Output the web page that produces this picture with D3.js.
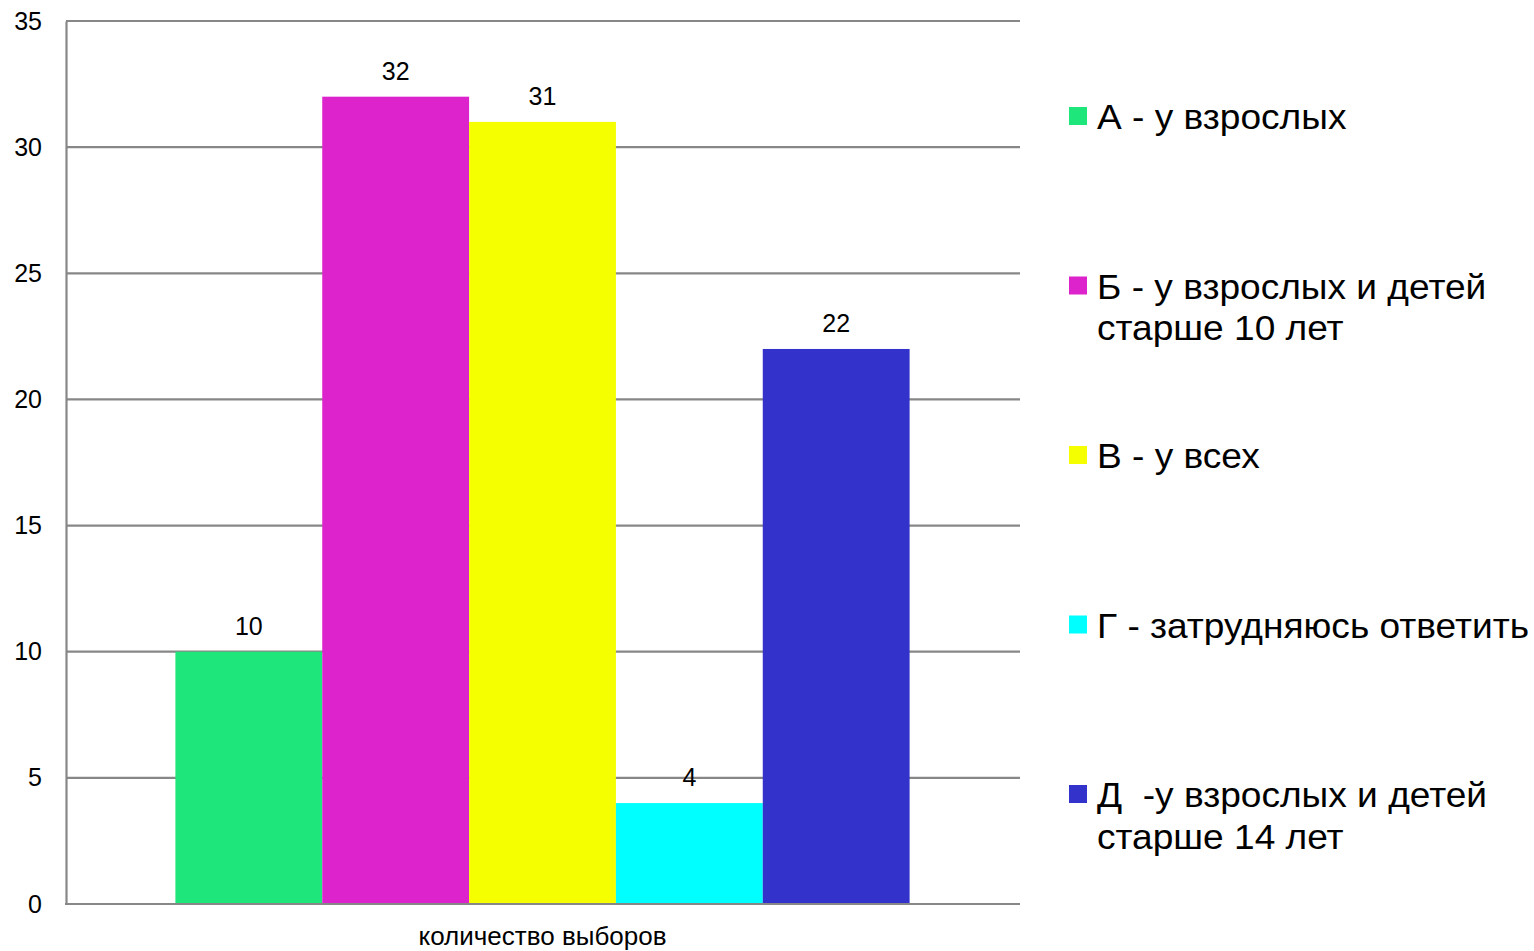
<!DOCTYPE html>
<html>
<head>
<meta charset="utf-8">
<script src="https://cdn.jsdelivr.net/npm/d3@7"></script>
<style>
  html, body { margin: 0; padding: 0; background: #fff; }
  svg { display: block; font-family: "Liberation Sans", Arial, sans-serif; }
</style>
</head>
<body>
<svg id="chart" width="1534" height="951"></svg>
<script>
// data
var category = "количество выборов";
var seriesNames = ["А - у взрослых", "Б - у взрослых и детей старше 10 лет", "В - у всех", "Г - затрудняюсь ответить", "Д  -у взрослых и детей старше 14 лет"];
var values = [10, 32, 31, 4, 22];
var colors = ["#1ee67a", "#dd24cc", "#f5ff00", "#00ffff", "#3333cc"];
// legend lines (wrapped as in the picture)
var legendLines = [
    ["А - у взрослых"],
    ["Б - у взрослых и детей", "старше 10 лет"],
    ["В - у всех"],
    ["Г - затрудняюсь ответить"],
    ["Д  -у взрослых и детей", "старше 14 лет"]
];
var yTicks = [0, 5, 10, 15, 20, 25, 30, 35];

var svg = d3.select('#chart');

var plot = { left: 66, right: 1019, top: 21, bottom: 904 };

var y = d3.scaleLinear().domain([0, 35]).range([plot.bottom, plot.top]);

var x0 = d3.scaleBand().domain([category])
    .range([plot.left, plot.right])
    .paddingInner(0).paddingOuter(0.149);

var x1 = d3.scaleBand().domain(seriesNames)
    .range([0, x0.bandwidth()]).padding(0);

// gridlines
svg.append('g')
    .selectAll('line')
    .data(yTicks.filter(d => d > 0))
    .join('line')
    .attr('x1', plot.left)
    .attr('x2', plot.right + 1)
    .attr('y1', d => y(d))
    .attr('y2', d => y(d))
    .attr('stroke', '#878787')
    .attr('stroke-width', 2.2);

// bars
var g = svg.append('g').attr('transform', 'translate(' + x0(category) + ',0)');
g.selectAll('rect')
    .data(values)
    .join('rect')
    .attr('x', (d, i) => x1(seriesNames[i]))
    .attr('y', d => y(d))
    .attr('width', x1.bandwidth())
    .attr('height', d => y(0) - y(d))
    .attr('fill', (d, i) => colors[i]);

// data labels
g.selectAll('text')
    .data(values)
    .join('text')
    .attr('x', (d, i) => x1(seriesNames[i]) + x1.bandwidth() / 2)
    .attr('y', d => y(d) - 17)
    .attr('text-anchor', 'middle')
    .style('font-size', '25px')
    .attr('fill', '#000')
    .text(d => d);

// axes lines
var yAxis = d3.axisLeft(y).tickValues(yTicks).tickSize(0).tickPadding(24);
var yg = svg.append('g')
    .attr('transform', 'translate(' + plot.left + ',0)')
    .call(yAxis);
yg.select('.domain').attr('stroke', '#878787').attr('stroke-width', 2.2);
yg.selectAll('text').style('font-size', '25px').attr('fill', '#000');

var xAxis = d3.axisBottom(x0).tickSize(0).tickPadding(22.5);
var xg = svg.append('g')
    .attr('transform', 'translate(0,' + plot.bottom + ')')
    .call(xAxis);
xg.select('.domain').attr('stroke', '#878787').attr('stroke-width', 2.2)
    .attr('d', 'M' + (plot.left - 1) + ',0H' + (plot.right + 1));
xg.selectAll('text').style('font-size', '26px').attr('fill', '#000');

// legend
var legend = svg.append('g').attr('transform', 'translate(1069,0)');
var legendY = d3.scalePoint().domain(seriesNames).range([129, 807]);

var items = legend.selectAll('g')
    .data(seriesNames)
    .join('g')
    .attr('transform', d => 'translate(0,' + legendY(d) + ')');

items.append('rect')
    .attr('x', 0)
    .attr('y', -22)
    .attr('width', 18)
    .attr('height', 18)
    .attr('fill', (d, i) => colors[i]);

items.append('text')
    .attr('transform', 'translate(28,0) scale(1.06,1)')
    .style('font-size', '35px')
    .style('white-space', 'pre')
    .attr('fill', '#000')
    .selectAll('tspan')
    .data((d, i) => legendLines[i])
    .join('tspan')
    .attr('x', 0)
    .attr('dy', (d, j) => j === 0 ? 0 : 42)
    .text(d => d);
</script>
</body>
</html>
